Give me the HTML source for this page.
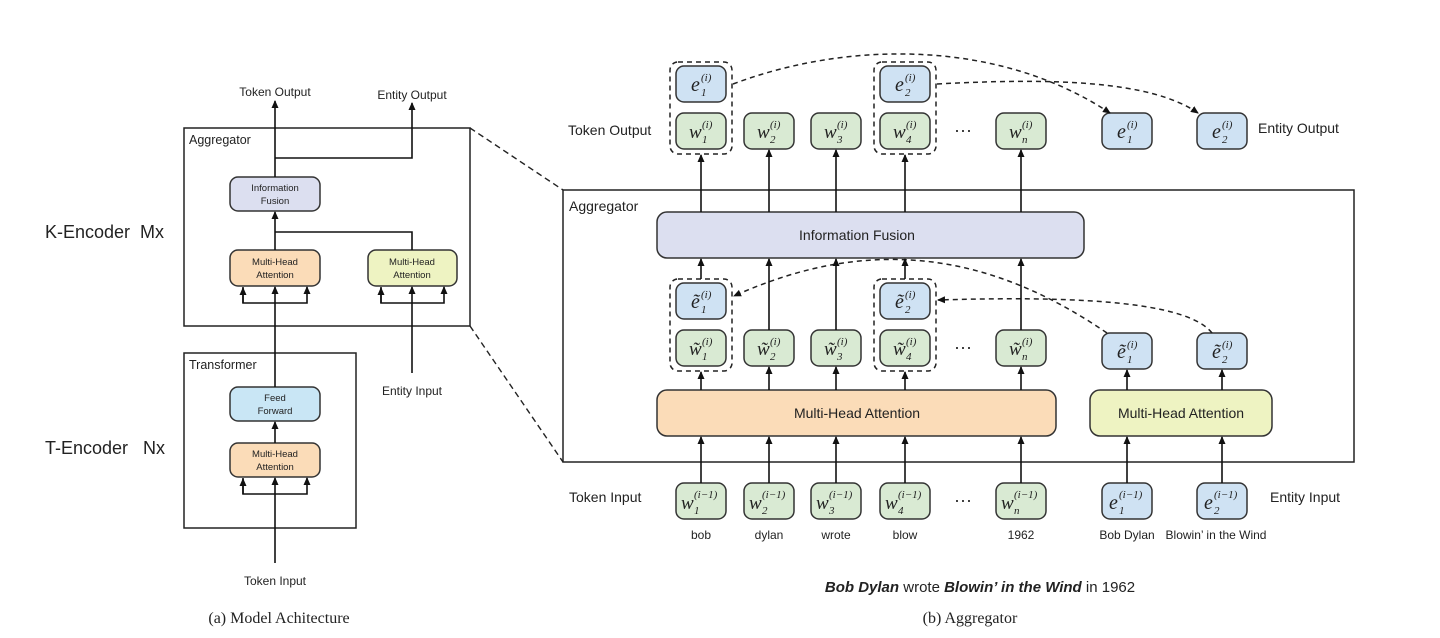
<!DOCTYPE html>
<html><head><meta charset="utf-8"><style>
body{margin:0;background:#fff}
svg{display:block}
.s{font-family:"Liberation Sans",sans-serif;fill:#222}
.m{font-family:"Liberation Serif",serif;font-style:italic;fill:#222}
</style></head><body>
<svg width="1440" height="638" viewBox="0 0 1440 638" xmlns="http://www.w3.org/2000/svg">
<defs>
<marker id="a" markerWidth="8" markerHeight="8" refX="7" refY="4" orient="auto" markerUnits="userSpaceOnUse"><path d="M0,0.5 L8,4 L0,7.5 z" fill="#111"/></marker>
</defs>
<g stroke="#222" stroke-width="1.5" fill="none">
<!-- LEFT -->
<rect x="184" y="128" width="286" height="198"/>
<rect x="184" y="353" width="172" height="175"/>
</g>
<rect x="230" y="177" width="90" height="34" rx="8" fill="#dcdff0" stroke="#333" stroke-width="1.5"/>
<rect x="230" y="250" width="90" height="36" rx="8" fill="#fbdcb8" stroke="#333" stroke-width="1.5"/>
<rect x="368" y="250" width="89" height="36" rx="8" fill="#eef3c2" stroke="#333" stroke-width="1.5"/>
<rect x="230" y="387" width="90" height="34" rx="8" fill="#c9e6f5" stroke="#333" stroke-width="1.5"/>
<rect x="230" y="443" width="90" height="34" rx="8" fill="#fbdcb8" stroke="#333" stroke-width="1.5"/>
<g stroke="#111" stroke-width="1.6" fill="none">
<line x1="275" y1="177" x2="275" y2="101" marker-end="url(#a)"/>
<polyline points="275,158 412,158 412,103" marker-end="url(#a)"/>
<line x1="275" y1="250" x2="275" y2="212" marker-end="url(#a)"/>
<polyline points="275,232 412,232 412,250"/>
<line x1="275" y1="387" x2="275" y2="287" marker-end="url(#a)"/>
<polyline points="243,287 243,303 307,303 307,287" marker-end="url(#a)"/>
<path d="M243,303 L243,288" marker-end="url(#a)"/>
<line x1="412" y1="373" x2="412" y2="287" marker-end="url(#a)"/>
<polyline points="381,287 381,303 444,303 444,287" marker-end="url(#a)"/>
<path d="M381,303 L381,288" marker-end="url(#a)"/>
<line x1="275" y1="443" x2="275" y2="422" marker-end="url(#a)"/>
<line x1="275" y1="563" x2="275" y2="478" marker-end="url(#a)"/>
<polyline points="243,478 243,494 307,494 307,478" marker-end="url(#a)"/>
<path d="M243,494 L243,479" marker-end="url(#a)"/>
</g>
<g class="s" font-size="12" text-anchor="middle">
<text x="275" y="96">Token Output</text>
<text x="412" y="99">Entity Output</text>
<text x="412" y="395">Entity Input</text>
<text x="275" y="585">Token Input</text>
<text x="275" y="191" font-size="9.5">Information</text>
<text x="275" y="204" font-size="9.5">Fusion</text>
<text x="275" y="265" font-size="9.5">Multi-Head</text>
<text x="275" y="278" font-size="9.5">Attention</text>
<text x="412" y="265" font-size="9.5">Multi-Head</text>
<text x="412" y="278" font-size="9.5">Attention</text>
<text x="275" y="401" font-size="9.5">Feed</text>
<text x="275" y="414" font-size="9.5">Forward</text>
<text x="275" y="457" font-size="9.5">Multi-Head</text>
<text x="275" y="470" font-size="9.5">Attention</text>
</g>
<text class="s" x="189" y="144" font-size="12.5">Aggregator</text>
<text class="s" x="189" y="369" font-size="12.5">Transformer</text>
<text class="s" x="45" y="238" font-size="18">K-Encoder&#160;&#160;Mx</text>
<text class="s" x="45" y="454" font-size="18">T-Encoder&#160;&#160;&#160;Nx</text>
<text x="279" y="623" font-family="Liberation Serif,serif" font-size="16" text-anchor="middle" fill="#222">(a) Model Achitecture</text>
<text x="970" y="623" font-family="Liberation Serif,serif" font-size="16" text-anchor="middle" fill="#222">(b) Aggregator</text>
<!-- zoom lines -->
<g stroke="#222" stroke-width="1.4" stroke-dasharray="6,4" fill="none">
<line x1="470" y1="128" x2="563" y2="190"/>
<line x1="470" y1="326" x2="563" y2="462"/>
</g>
<!-- RIGHT -->
<rect x="563" y="190" width="791" height="272" fill="none" stroke="#222" stroke-width="1.5"/>
<text class="s" x="569" y="211" font-size="14">Aggregator</text>
<rect x="657" y="212" width="427" height="46" rx="10" fill="#dcdff0" stroke="#333" stroke-width="1.5"/>
<text class="s" x="857" y="240" font-size="14" text-anchor="middle">Information Fusion</text>
<rect x="657" y="390" width="399" height="46" rx="10" fill="#fbdcb8" stroke="#333" stroke-width="1.5"/>
<text class="s" x="857" y="418" font-size="14" text-anchor="middle">Multi-Head Attention</text>
<rect x="1090" y="390" width="182" height="46" rx="10" fill="#eef3c2" stroke="#333" stroke-width="1.5"/>
<text class="s" x="1181" y="418" font-size="14" text-anchor="middle">Multi-Head Attention</text>
<g stroke="#333" stroke-width="1.5">
<!-- token output row -->
<rect x="676" y="113" width="50" height="36" rx="8" fill="#d9ead3"/>
<rect x="744" y="113" width="50" height="36" rx="8" fill="#d9ead3"/>
<rect x="811" y="113" width="50" height="36" rx="8" fill="#d9ead3"/>
<rect x="880" y="113" width="50" height="36" rx="8" fill="#d9ead3"/>
<rect x="996" y="113" width="50" height="36" rx="8" fill="#d9ead3"/>
<rect x="676" y="66" width="50" height="36" rx="8" fill="#cfe2f3"/>
<rect x="880" y="66" width="50" height="36" rx="8" fill="#cfe2f3"/>
<rect x="1102" y="113" width="50" height="36" rx="8" fill="#cfe2f3"/>
<rect x="1197" y="113" width="50" height="36" rx="8" fill="#cfe2f3"/>
<!-- tilde row -->
<rect x="676" y="283" width="50" height="36" rx="8" fill="#cfe2f3"/>
<rect x="880" y="283" width="50" height="36" rx="8" fill="#cfe2f3"/>
<rect x="676" y="330" width="50" height="36" rx="8" fill="#d9ead3"/>
<rect x="744" y="330" width="50" height="36" rx="8" fill="#d9ead3"/>
<rect x="811" y="330" width="50" height="36" rx="8" fill="#d9ead3"/>
<rect x="880" y="330" width="50" height="36" rx="8" fill="#d9ead3"/>
<rect x="996" y="330" width="50" height="36" rx="8" fill="#d9ead3"/>
<rect x="1102" y="333" width="50" height="36" rx="8" fill="#cfe2f3"/>
<rect x="1197" y="333" width="50" height="36" rx="8" fill="#cfe2f3"/>
<!-- input row -->
<rect x="676" y="483" width="50" height="36" rx="8" fill="#d9ead3"/>
<rect x="744" y="483" width="50" height="36" rx="8" fill="#d9ead3"/>
<rect x="811" y="483" width="50" height="36" rx="8" fill="#d9ead3"/>
<rect x="880" y="483" width="50" height="36" rx="8" fill="#d9ead3"/>
<rect x="996" y="483" width="50" height="36" rx="8" fill="#d9ead3"/>
<rect x="1102" y="483" width="50" height="36" rx="8" fill="#cfe2f3"/>
<rect x="1197" y="483" width="50" height="36" rx="8" fill="#cfe2f3"/>
</g>
<!-- dashed groups -->
<g stroke="#222" stroke-width="1.5" stroke-dasharray="5,4" fill="none">
<rect x="670" y="62" width="62" height="92" rx="8"/>
<rect x="874" y="62" width="62" height="92" rx="8"/>
<rect x="670" y="279" width="62" height="92" rx="8"/>
<rect x="874" y="279" width="62" height="92" rx="8"/>
<path d="M733,84 C850,40 1000,40 1110,113" marker-end="url(#a)"/>
<path d="M937,84 C1050,78 1150,80 1198,113" marker-end="url(#a)"/>
<path d="M1107,333 C1000,260 880,230 734,296" marker-end="url(#a)"/>
<path d="M1212,333 C1190,305 1100,295 938,300" marker-end="url(#a)"/>
</g>
<!-- solid arrows -->
<g stroke="#111" stroke-width="1.6" fill="none">
<line x1="701" y1="212" x2="701" y2="155" marker-end="url(#a)"/>
<line x1="769" y1="212" x2="769" y2="150" marker-end="url(#a)"/>
<line x1="836" y1="212" x2="836" y2="150" marker-end="url(#a)"/>
<line x1="905" y1="212" x2="905" y2="155" marker-end="url(#a)"/>
<line x1="1021" y1="212" x2="1021" y2="150" marker-end="url(#a)"/>
<line x1="701" y1="279" x2="701" y2="259" marker-end="url(#a)"/>
<line x1="769" y1="330" x2="769" y2="259" marker-end="url(#a)"/>
<line x1="836" y1="330" x2="836" y2="259" marker-end="url(#a)"/>
<line x1="905" y1="279" x2="905" y2="259" marker-end="url(#a)"/>
<line x1="1021" y1="330" x2="1021" y2="259" marker-end="url(#a)"/>
<line x1="701" y1="390" x2="701" y2="372" marker-end="url(#a)"/>
<line x1="769" y1="390" x2="769" y2="367" marker-end="url(#a)"/>
<line x1="836" y1="390" x2="836" y2="367" marker-end="url(#a)"/>
<line x1="905" y1="390" x2="905" y2="372" marker-end="url(#a)"/>
<line x1="1021" y1="390" x2="1021" y2="367" marker-end="url(#a)"/>
<line x1="1127" y1="390" x2="1127" y2="370" marker-end="url(#a)"/>
<line x1="1222" y1="390" x2="1222" y2="370" marker-end="url(#a)"/>
<line x1="701" y1="483" x2="701" y2="437" marker-end="url(#a)"/>
<line x1="769" y1="483" x2="769" y2="437" marker-end="url(#a)"/>
<line x1="836" y1="483" x2="836" y2="437" marker-end="url(#a)"/>
<line x1="905" y1="483" x2="905" y2="437" marker-end="url(#a)"/>
<line x1="1021" y1="483" x2="1021" y2="437" marker-end="url(#a)"/>
<line x1="1127" y1="483" x2="1127" y2="437" marker-end="url(#a)"/>
<line x1="1222" y1="483" x2="1222" y2="437" marker-end="url(#a)"/>
</g>
<!-- math labels -->
<g class="m">
<!-- output row -->
<text x="689" y="138" font-size="19">w</text><text x="702" y="128" font-size="11">(i)</text><text x="702" y="143" font-size="11">1</text>
<text x="757" y="138" font-size="19">w</text><text x="770" y="128" font-size="11">(i)</text><text x="770" y="143" font-size="11">2</text>
<text x="824" y="138" font-size="19">w</text><text x="837" y="128" font-size="11">(i)</text><text x="837" y="143" font-size="11">3</text>
<text x="893" y="138" font-size="19">w</text><text x="906" y="128" font-size="11">(i)</text><text x="906" y="143" font-size="11">4</text>
<text x="1009" y="138" font-size="19">w</text><text x="1022" y="128" font-size="11">(i)</text><text x="1022" y="143" font-size="11">n</text>
<text x="691" y="91" font-size="20">e</text><text x="701" y="81" font-size="11">(i)</text><text x="701" y="96" font-size="11">1</text>
<text x="895" y="91" font-size="20">e</text><text x="905" y="81" font-size="11">(i)</text><text x="905" y="96" font-size="11">2</text>
<text x="1117" y="138" font-size="20">e</text><text x="1127" y="128" font-size="11">(i)</text><text x="1127" y="143" font-size="11">1</text>
<text x="1212" y="138" font-size="20">e</text><text x="1222" y="128" font-size="11">(i)</text><text x="1222" y="143" font-size="11">2</text>
<!-- tilde row -->
<text x="691" y="308" font-size="20">ẽ</text><text x="701" y="298" font-size="11">(i)</text><text x="701" y="313" font-size="11">1</text>
<text x="895" y="308" font-size="20">ẽ</text><text x="905" y="298" font-size="11">(i)</text><text x="905" y="313" font-size="11">2</text>
<text x="689" y="355" font-size="19">w̃</text><text x="702" y="345" font-size="11">(i)</text><text x="702" y="360" font-size="11">1</text>
<text x="757" y="355" font-size="19">w̃</text><text x="770" y="345" font-size="11">(i)</text><text x="770" y="360" font-size="11">2</text>
<text x="824" y="355" font-size="19">w̃</text><text x="837" y="345" font-size="11">(i)</text><text x="837" y="360" font-size="11">3</text>
<text x="893" y="355" font-size="19">w̃</text><text x="906" y="345" font-size="11">(i)</text><text x="906" y="360" font-size="11">4</text>
<text x="1009" y="355" font-size="19">w̃</text><text x="1022" y="345" font-size="11">(i)</text><text x="1022" y="360" font-size="11">n</text>
<text x="1117" y="358" font-size="20">ẽ</text><text x="1127" y="348" font-size="11">(i)</text><text x="1127" y="363" font-size="11">1</text>
<text x="1212" y="358" font-size="20">ẽ</text><text x="1222" y="348" font-size="11">(i)</text><text x="1222" y="363" font-size="11">2</text>
<!-- input row -->
<text x="681" y="509" font-size="19">w</text><text x="694" y="498" font-size="11">(i−1)</text><text x="694" y="514" font-size="11">1</text>
<text x="749" y="509" font-size="19">w</text><text x="762" y="498" font-size="11">(i−1)</text><text x="762" y="514" font-size="11">2</text>
<text x="816" y="509" font-size="19">w</text><text x="829" y="498" font-size="11">(i−1)</text><text x="829" y="514" font-size="11">3</text>
<text x="885" y="509" font-size="19">w</text><text x="898" y="498" font-size="11">(i−1)</text><text x="898" y="514" font-size="11">4</text>
<text x="1001" y="509" font-size="19">w</text><text x="1014" y="498" font-size="11">(i−1)</text><text x="1014" y="514" font-size="11">n</text>
<text x="1109" y="509" font-size="20">e</text><text x="1119" y="498" font-size="11">(i−1)</text><text x="1119" y="514" font-size="11">1</text>
<text x="1204" y="509" font-size="20">e</text><text x="1214" y="498" font-size="11">(i−1)</text><text x="1214" y="514" font-size="11">2</text>
</g>
<g class="s" font-size="18" text-anchor="middle">
<text x="963" y="136">···</text>
<text x="963" y="353">···</text>
<text x="963" y="506">···</text>
</g>
<g class="s" font-size="14">
<text x="568" y="135">Token Output</text>
<text x="1258" y="133">Entity Output</text>
<text x="569" y="502">Token Input</text>
<text x="1270" y="502">Entity Input</text>
</g>
<g class="s" font-size="12" text-anchor="middle">
<text x="701" y="539">bob</text>
<text x="769" y="539">dylan</text>
<text x="836" y="539">wrote</text>
<text x="905" y="539">blow</text>
<text x="1021" y="539">1962</text>
<text x="1127" y="539">Bob Dylan</text>
<text x="1216" y="539">Blowin’ in the Wind</text>
</g>
<text class="s" x="980" y="592" font-size="15" text-anchor="middle"><tspan font-weight="bold" font-style="italic">Bob Dylan</tspan> wrote <tspan font-weight="bold" font-style="italic">Blowin’ in the Wind</tspan> in 1962</text>
</svg>
</body></html>
